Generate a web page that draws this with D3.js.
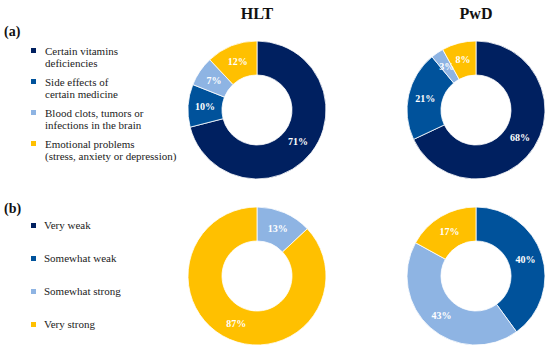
<!DOCTYPE html>
<html>
<head>
<meta charset="utf-8">
<script src="https://cdn.jsdelivr.net/npm/d3@7"></script>
<style>
  body { margin: 0; background: #fff; }
</style>
</head>
<body>
<div id="chart"></div>
<script>
// Panel (a): perceived causes
const causeLabels = [
    ['Certain vitamins', 'deficiencies'],
    ['Side effects of', 'certain medicine'],
    ['Blood clots, tumors or', 'infections in the brain'],
    ['Emotional problems', '(stress, anxiety or depression)']
];
const hltCauses = [71, 10, 7, 12];
const pwdCauses = [68, 21, 3, 8];

// Panel (b): strength
const strengthLabels = ['Very weak', 'Somewhat weak', 'Somewhat strong', 'Very strong'];
const hltStrength = [0, 0, 13, 87];
const pwdStrength = [0, 40, 43, 17];

const groupTitles = ['HLT', 'PwD'];
const colors = ['#002060', '#00529b', '#8eb4e3', '#ffc000'];
const serif = '"Liberation Serif", "Times New Roman", serif';

const width = 550, height = 350;
const svg = d3.select('#chart').append('svg')
    .attr('width', width)
    .attr('height', height)
    .attr('font-family', serif);

const outerR = 69, innerR = 35;
const colX = [257, 476];
const rowY = [110, 276];

const pie = d3.pie().sort(null).value(d => d);
const arc = d3.arc().innerRadius(innerR).outerRadius(outerR);
const labelArc = d3.arc().innerRadius((innerR + outerR) / 2).outerRadius((innerR + outerR) / 2);

function drawDonut(values, cx, cy) {
    const g = svg.append('g').attr('transform', `translate(${cx},${cy})`);
    const arcs = pie(values);
    g.selectAll('path')
        .data(arcs)
        .join('path')
        .attr('d', arc)
        .attr('fill', (d, i) => colors[i])
        .attr('stroke', '#fff')
        .attr('stroke-width', 0.8);
    g.selectAll('text')
        .data(arcs.filter(d => d.data > 0))
        .join('text')
        .attr('transform', d => `translate(${labelArc.centroid(d)})`)
        .attr('text-anchor', 'middle')
        .attr('dy', '0.35em')
        .attr('font-family', serif)
        .attr('font-size', '10px')
        .attr('font-weight', 'bold')
        .attr('fill', '#fff')
        .text(d => d.data + '%');
}

// Titles
svg.selectAll('.title')
    .data(groupTitles)
    .join('text')
    .attr('class', 'title')
    .attr('x', (d, i) => colX[i])
    .attr('y', 19)
    .attr('text-anchor', 'middle')
    .attr('font-family', serif)
    .attr('font-size', '16px')
    .attr('font-weight', 'bold')
    .attr('fill', '#111')
    .text(d => d);

drawDonut(hltCauses, colX[0], rowY[0]);
drawDonut(pwdCauses, colX[1], rowY[0]);
drawDonut(hltStrength, colX[0], rowY[1]);
drawDonut(pwdStrength, colX[1], rowY[1]);

// Panel letters
svg.append('text').attr('x', 4).attr('y', 36).attr('font-family', serif)
    .attr('font-size', '14px').attr('font-weight', 'bold').attr('fill', '#111').text('(a)');
svg.append('text').attr('x', 4).attr('y', 213).attr('font-family', serif)
    .attr('font-size', '14px').attr('font-weight', 'bold').attr('fill', '#111').text('(b)');

// Legend (a)
const legA = svg.append('g');
causeLabels.forEach((lines, i) => {
    const y0 = 55 + i * 31;
    legA.append('rect')
        .attr('x', 31).attr('y', y0 - 7)
        .attr('width', 5).attr('height', 5)
        .attr('fill', colors[i]);
    lines.forEach((line, j) => {
        legA.append('text')
            .attr('x', 45).attr('y', y0 + j * 12)
            .attr('font-family', serif)
            .attr('font-size', '11px')
            .attr('fill', '#222')
            .text(line);
    });
});

// Legend (b)
const legB = svg.append('g');
strengthLabels.forEach((label, i) => {
    const y0 = 229 + i * 33;
    legB.append('rect')
        .attr('x', 31).attr('y', y0 - 6)
        .attr('width', 5).attr('height', 5)
        .attr('fill', colors[i]);
    legB.append('text')
        .attr('x', 44).attr('y', y0)
        .attr('font-family', serif)
        .attr('font-size', '11px')
        .attr('fill', '#222')
        .text(label);
});
</script>
</body>
</html>
